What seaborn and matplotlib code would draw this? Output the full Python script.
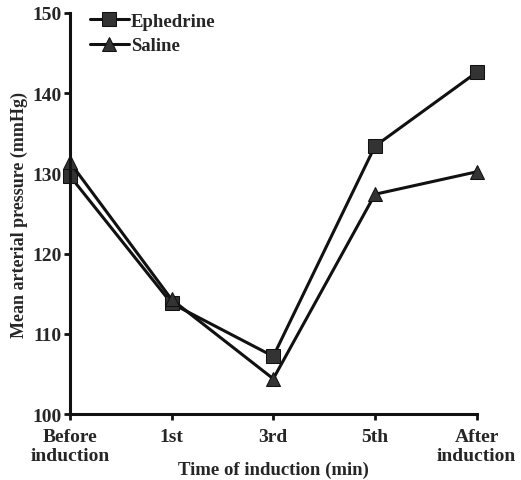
import matplotlib
matplotlib.use("Agg")
import matplotlib.pyplot as plt
import pandas as pd
import seaborn as sns

times = ["Before\ninduction", "1st", "3rd", "5th", "After\ninduction"]
ephedrine = [129.7, 113.8, 107.2, 133.4, 142.6]
saline = [131.4, 114.3, 104.4, 127.4, 130.2]

df = pd.concat([
    pd.DataFrame({"time": times, "map": ephedrine, "group": "Ephedrine"}),
    pd.DataFrame({"time": times, "map": saline, "group": "Saline"}),
])

sns.set_style("ticks")
plt.rcParams["font.family"] = ["Liberation Serif", "DejaVu Serif"]
plt.rcParams["font.weight"] = "bold"

fig = plt.figure(figsize=(5.21, 4.81), dpi=100)
ax = fig.add_axes([0.134, 0.137, 0.781, 0.834])

sns.lineplot(data=df, x="time", y="map", hue="group", style="group",
             markers={"Ephedrine": "s", "Saline": "^"}, dashes=False,
             palette={"Ephedrine": "#111111", "Saline": "#111111"},
             markersize=10, markeredgecolor="#111111", markerfacecolor="#333333",
             linewidth=2.2, ax=ax, clip_on=False)

ax.set_xlim(0, 4)
ax.set_ylim(100, 150)
ax.set_yticks([100, 110, 120, 130, 140, 150])
ax.set_xlabel("Time of induction (min)", fontsize=13.5, fontweight="bold", labelpad=-2)
ax.set_ylabel("Mean arterial pressure (mmHg)", fontsize=13, fontweight="bold", labelpad=3)
ax.tick_params(axis="y", labelsize=14, width=2, length=4, color="#111111", pad=2)
ax.tick_params(axis="x", labelsize=14, width=2, length=4, color="#111111", pad=6)
for lab in ax.get_xticklabels() + ax.get_yticklabels():
    lab.set_fontweight("bold")
for lab in ax.get_xticklabels():
    lab.set_linespacing(1.15)
sns.despine(ax=ax)
for side in ["left", "bottom"]:
    ax.spines[side].set_linewidth(2.2)
    ax.spines[side].set_color("#111111")

leg = ax.legend(loc="upper left", bbox_to_anchor=(0.03, 1.02), frameon=False,
                fontsize=13.5, handlelength=2.1, handletextpad=0.1,
                labelspacing=0.4, borderaxespad=0)
for t in leg.get_texts():
    t.set_fontweight("bold")

fig.savefig("out.png", dpi=100)
